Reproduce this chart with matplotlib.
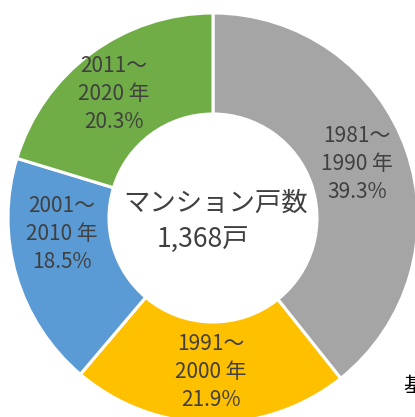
import matplotlib
matplotlib.use("Agg")
import matplotlib.pyplot as plt

plt.rcParams['font.family'] = ['Noto Sans CJK JP', 'DejaVu Sans']

categories = ["1981～\n1990 年", "1991～\n2000 年", "2001～\n2010 年", "2011～\n2020 年"]
shares = [39.3, 21.9, 18.5, 20.3]
colors = ["#A5A5A5", "#FFC000", "#5B9BD5", "#70AD47"]
center_title = "マンション戸数"
center_total = "1,368戸"
note_text = "基"

W, H = 415, 417
fig = plt.figure(figsize=(W / 100, H / 100), dpi=100)
ax = fig.add_axes([0, 0, 1, 1])

cx, cy = 213, H - 218
R = 205
inner = 104

ax.pie(shares, colors=colors, startangle=90, counterclock=False,
       radius=R, center=(cx, cy), frame=True,
       wedgeprops=dict(width=R - inner, edgecolor='white', linewidth=2.2))
ax.set_xlim(0, W)
ax.set_ylim(0, H)
ax.set_aspect('equal')
ax.axis('off')

label_pos = [(357, 164), (211, 372), (62, 234), (114, 94)]
txtc = "#404040"
for (lx, ly), cat, s in zip(label_pos, categories, shares):
    ax.text(lx, H - ly, f"{cat}\n{s:.1f}%", ha='center', va='center',
            fontsize=15, color=txtc, linespacing=1.38)

ax.text(216, H - 203, center_title, ha='center', va='center', fontsize=19, color=txtc)
ax.text(203, H - 239, center_total, ha='center', va='center', fontsize=19, color=txtc)
ax.text(403, H - 386, note_text, ha='left', va='center', fontsize=15, color='black')

fig.savefig("out.png", dpi=100)
